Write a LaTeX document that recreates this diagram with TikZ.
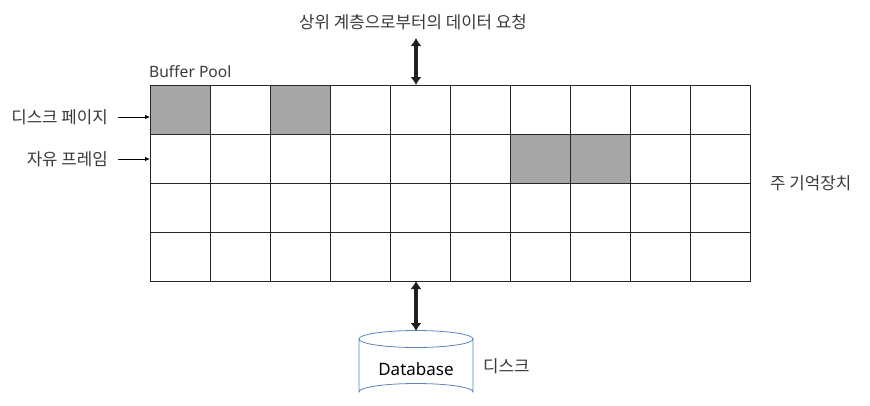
\documentclass[tikz,border=0pt]{standalone}
\usepackage{fontspec}
\setmainfont{Noto Sans}
\newfontfamily\kr{Noto Sans CJK KR}
\usetikzlibrary{arrows.meta}
\definecolor{cellgray}{HTML}{A6A6A6}
\definecolor{txtgray}{HTML}{3A3A3A}
\definecolor{dbblue}{HTML}{5A86C0}
\begin{document}
\begin{tikzpicture}[x=1pt,y=-1pt,
  krlabel/.style={font=\kr\fontsize{16.8}{18}\selectfont, text=txtgray, inner sep=0pt},
  cellbox/.style={draw=black!85, line width=0.9pt, minimum width=60pt, minimum height=49pt, inner sep=0pt, anchor=north west},
  graycell/.style={cellbox, fill=cellgray},
  bigarrow/.style={draw=black!88, line width=3.4pt, {Latex[length=8pt,width=11pt]}-{Latex[length=8pt,width=11pt]}},
  smallarrow/.style={draw=black, line width=0.8pt, -{Latex[length=5pt,width=4.5pt]}}
]
\useasboundingbox (0,0) rectangle (870,405);
\fill[white] (0,0) rectangle (870,405);
% grid
\foreach \r in {0,...,3}{
  \foreach \c in {0,...,9}{
    \node[cellbox] (c\r\c) at ({150+60*\c},{85+49*\r}) {};
  }
}
\foreach \r/\c in {0/0,0/2,1/6,1/7}{
  \node[graycell] at ({150+60*\c},{85+49*\r}) {};
}
% labels
\node[krlabel] (top) at (413,22) {상위 계층으로부터의 데이터 요청};
\node[font=\fontsize{15.6}{17}\selectfont, text=txtgray, inner sep=0pt, anchor=west] (bp) at (149,72) {Buffer Pool};
\node[krlabel, anchor=east] (dp) at (108,117) {디스크 페이지};
\node[krlabel, anchor=east] (fr) at (108,159) {자유 프레임};
\node[krlabel, anchor=west] (mm) at (770,183) {주 기억장치};
\node[krlabel, anchor=west] (dk) at (483,366) {디스크};
% cylinder
\coordinate (dbtop) at (416,331);
\draw[dbblue, line width=0.8pt, fill=white]
  (359,339) -- (359,392) arc[start angle=180, end angle=360, x radius=57, y radius=8.5]
  -- (473,339) arc[start angle=0, end angle=180, x radius=57, y radius=8.5];
\draw[dbblue, line width=0.8pt] (359,339) arc[start angle=180, end angle=360, x radius=57, y radius=8.5];
\node[font=\fontsize{17}{19}\selectfont, text=black, inner sep=0pt] (db) at (416,369) {Database};
% arrows
\coordinate (ta) at (416,38);
\coordinate (tb) at (416,85);
\draw[bigarrow] (ta) -- (tb);
\coordinate (ba) at (416,281);
\draw[bigarrow] (ba) -- (dbtop);
\draw[smallarrow] (dp.east) ++(10,0) coordinate (dps) -- (c00.west |- dps);
\draw[smallarrow] (fr.east) ++(10,0) coordinate (frs) -- (c10.west |- frs);
\end{tikzpicture}
\end{document}
